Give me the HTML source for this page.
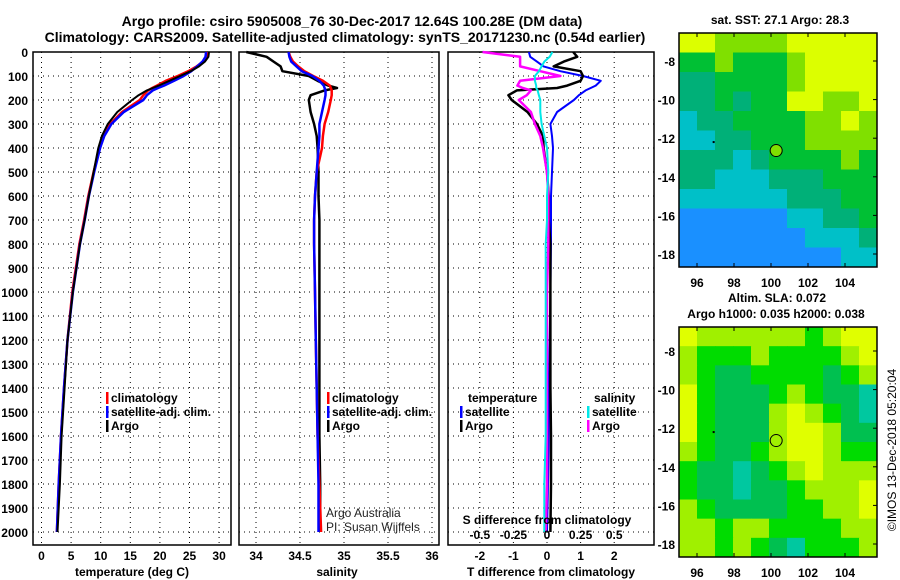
<!DOCTYPE html>
<html><head><meta charset="utf-8"><style>
html,body{margin:0;padding:0;background:#fff;}
svg{display:block;font-family:"Liberation Sans",Arial,sans-serif;}
.t{font-weight:bold;font-size:12px;fill:#000;}
.h{font-weight:bold;font-size:14px;fill:#000;}
</style></head><body>
<svg id="c" width="900" height="580" viewBox="0 0 900 580" xmlns="http://www.w3.org/2000/svg">
<text class="h" x="352" y="26" text-anchor="middle">Argo profile: csiro 5905008_76 30-Dec-2017 12.64S 100.28E (DM data)</text>
<text class="h" x="345" y="42" text-anchor="middle">Climatology: CARS2009. Satellite-adjusted climatology: synTS_20171230.nc (0.54d earlier)</text>
</svg>
<script>
// ---- data ----
const depths = [0,20,40,60,80,100,120,140,150,160,180,200,250,300,350,400,500,600,700,800,1000,1200,1400,1600,1800,2000];
const depthTicks = [0,100,200,300,400,500,600,700,800,900,1000,1100,1200,1300,1400,1500,1600,1700,1800,1900,2000];
const tempArgo = [28.3,28.2,27.6,26.6,25.2,23.4,21.6,19.8,18.8,17.8,16.4,15.3,12.8,11.2,10.2,9.6,8.8,8.0,7.3,6.5,5.3,4.4,3.9,3.4,3.1,2.7];
const tempClim = [28.0,27.9,27.3,26.2,24.8,23.0,21.0,19.5,18.7,18.0,17.2,16.6,13.6,11.6,10.5,9.8,8.8,7.9,7.2,6.4,5.2,4.4,3.8,3.3,2.9,2.6];
const tempSat = [27.8,27.7,27.2,26.3,25.3,24.0,22.4,20.7,19.7,18.8,17.8,17.2,13.9,11.8,10.6,9.9,8.9,8.0,7.3,6.5,5.3,4.4,3.8,3.3,2.9,2.6];
const tempTicks = [0,5,10,15,20,25,30];
const salArgo = [33.89,34.12,34.2,34.28,34.3,34.6,34.7,34.82,34.92,34.78,34.62,34.6,34.62,34.66,34.69,34.7,34.71,34.71,34.72,34.72,34.72,34.72,34.72,34.72,34.73,34.73];
const salClim = [34.37,34.39,34.42,34.48,34.55,34.65,34.76,34.84,34.85,34.86,34.86,34.85,34.82,34.78,34.76,34.75,34.69,34.67,34.66,34.66,34.67,34.68,34.69,34.7,34.72,34.74];
const salSat = [34.37,34.38,34.4,34.46,34.52,34.64,34.72,34.77,34.78,34.79,34.79,34.78,34.75,34.72,34.72,34.71,34.69,34.67,34.66,34.66,34.67,34.68,34.69,34.7,34.71,34.71];
const salTicks = [34,34.5,35,35.5,36];
const tDiffSat = [-0.54,-0.5,-0.3,-0.1,0.4,1.07,1.6,1.45,1.3,1.15,0.95,0.8,0.3,0.1,0.15,0.18,0.15,0.12,0.12,0.12,0.1,0.08,0.05,0.05,0.03,0.0];
const tDiffArgo = [0.78,0.9,0.5,0.2,1.0,1.07,1.0,0.6,0.3,-0.9,-1.15,-1.05,-0.58,-0.3,-0.12,-0.1,0.0,0.05,0.05,0.1,0.1,0.1,0.1,0.12,0.12,0.1];
const sDiffArgo = [-0.48,-0.2,-0.2,-0.2,-0.05,0.1,-0.2,-0.22,-0.18,-0.12,-0.15,-0.21,-0.12,-0.09,-0.05,-0.03,0,0.01,0.01,0.01,0,0,0,0,0,-0.01];
const sDiffSat = [0.04,0.02,-0.02,-0.04,-0.06,-0.09,-0.09,-0.08,-0.08,-0.07,-0.06,-0.05,-0.05,-0.04,-0.02,0,0.01,0,0,-0.01,-0.01,-0.01,-0.01,-0.01,-0.02,-0.02];
const tDiffTicks = [-2,-1,0,1,2];
const sDiffTicks = [-0.5,-0.25,0,0.25,0.5];
const sDiffLabels = ["-0.5","-0.25","0","0.25","0.5"];
const lonTicks = [96,98,100,102,104];
const latTicks = [-8,-10,-12,-14,-16,-18];
const sstGrid = [
[5,5,4,4,4,4,5,5,5,5,5],
[3,3,4,3,3,3,4,5,5,5,5],
[2,2,3,3,3,3,4,5,5,5,5],
[2,2,3,2,3,3,5,5,4,4,5],
[1,2,2,3,3,3,3,4,4,5,4],
[1,1,2,2,3,3,3,4,4,4,4],
[2,2,2,1,2,3,3,3,3,4,3],
[2,2,1,1,1,2,2,2,3,3,3],
[1,1,1,1,1,1,2,2,2,3,3],
[0,0,0,0,0,0,1,1,2,2,3],
[0,0,0,0,0,0,0,1,1,1,2],
[0,0,0,0,0,0,0,0,0,1,1]];
const slaGrid = [
[4,3,3,3,3,3,3,2,3,4,4],
[3,2,2,2,3,2,2,2,2,3,4],
[3,2,1,1,2,2,2,2,1,2,3],
[4,2,1,1,1,2,3,2,1,1,0],
[4,2,1,1,1,3,4,3,2,1,0],
[4,2,1,1,1,3,4,4,3,1,1],
[3,2,1,1,2,3,4,4,3,2,2],
[2,1,1,0,1,2,3,4,3,3,3],
[2,1,1,0,1,1,2,3,3,3,4],
[3,2,1,1,1,1,2,2,3,3,4],
[3,3,2,3,3,2,2,2,2,3,3],
[3,3,2,3,2,1,0,2,2,2,3]];
const sstColors = ["#1a90ff","#00c0c8","#00b078","#00c034","#80e000","#dcff00"];
const slaColors = ["#00c8a0","#00c050","#00dc00","#a0f000","#e0ff00"];
const argoLon = 100.28, argoLat = -12.64;

// ---- helpers ----
const svg = document.getElementById('c');
const NS = 'http://www.w3.org/2000/svg';
function mk(tag, at, txt){ const e=document.createElementNS(NS,tag); for(const k in at) e.setAttribute(k,at[k]); if(txt!==undefined) e.textContent=txt; svg.appendChild(e); return e; }
const yTop=52, yBot=545;
const yD = d => yTop + d*0.24;

function panel(name,x0,x1,xs,ticks,labels,showDepth){
  ticks.forEach(v=>{ const gx=xs(v);
    const g=mk('line',{x1:gx,x2:gx,y1:yTop,y2:yBot,stroke:'#000','stroke-width':1,'stroke-dasharray':'1 4'});
    
    
  });
  depthTicks.forEach(d=>{ const gy=yD(d);
    const g=mk('line',{x1:x0,x2:x1,y1:gy,y2:gy,stroke:'#000','stroke-width':1,'stroke-dasharray':'1 4'});
    
    
    if(showDepth){ const t=mk('text',{class:'t',x:x0-5,y:gy+5,'text-anchor':'end'},String(d));
      
       }
  });
  if(labels){ ticks.forEach((v,i)=>{ const t=mk('text',{class:'t',x:xs(v),y:560,'text-anchor':'middle'},labels[i]);
    
     }); }
  const f=mk('rect',{x:x0,y:yTop,width:x1-x0,height:yBot-yTop,fill:'none',stroke:'#000','stroke-width':1.5});
  
  
}
function line(name,vals,xs,color,w){
  const p=vals.map((v,i)=>xs(v).toFixed(1)+','+yD(depths[i]).toFixed(1)).join(' ');
  const e=mk('polyline',{points:p,fill:'none',stroke:color,'stroke-width':w||2.5,'stroke-linejoin':'round'});
  
  
}
function legend(name,x,y,color,label){
  const r=mk('rect',{x:x,y:y-10,width:2.5,height:12,fill:color});
  
  
  const t=mk('text',{class:'t',x:x+5,y:y},label);
  
  
}

// temperature panel
const xT = v => 41.5 + v*5.92;
panel('temperature-panel',33,231,xT,tempTicks,tempTicks.map(String),true);
line('temp-clim-line',tempClim,xT,'#ff0000');
line('temp-sat-line',tempSat,xT,'#0000ff');
line('temp-argo-line',tempArgo,xT,'#000000',2);
legend('legend-climatology',106,402,'#ff0000','climatology');
legend('legend-satellite-adj',106,416,'#0000ff','satellite-adj. clim.');
legend('legend-argo',106,430,'#000','Argo');
let tt=mk('text',{class:'t',x:132,y:576,'text-anchor':'middle'},'temperature (deg C)');



// salinity panel
const xS = v => 256 + (v-34)*88;
panel('salinity-panel',239,439,xS,salTicks,["34","34.5","35","35.5","36"],false);
line('sal-argo-line',salArgo,xS,'#000000',2.5);
line('sal-clim-line',salClim,xS,'#ff0000');
line('sal-sat-line',salSat,xS,'#0000ff');
legend('legend-sal-climatology',327,402,'#ff0000','climatology');
legend('legend-sal-satellite-adj',327,416,'#0000ff','satellite-adj. clim.');
legend('legend-sal-argo',327,430,'#000','Argo');
tt=mk('text',{class:'t',x:337,y:576,'text-anchor':'middle'},'salinity');


tt=mk('text',{x:326,y:517,'font-size':'12px',fill:'#222'},'Argo Australia');


tt=mk('text',{x:326,y:531,'font-size':'12px',fill:'#222'},'PI: Susan Wijffels');



// difference panel
const xTd = v => 547 + v*33.6;
const xSd = v => 547 + v*134.4;
panel('difference-panel',448,654,xTd,tDiffTicks,tDiffTicks.map(String),false);
line('tdiff-sat-line',tDiffSat,xTd,'#0000ff',2);
line('tdiff-argo-line',tDiffArgo,xTd,'#000000',2.5);
line('sdiff-argo-line',sDiffArgo,xSd,'#ff00ff',2.5);
line('sdiff-sat-line',sDiffSat,xSd,'#00e8e8',2);
sDiffTicks.forEach((v,i)=>{ const t=mk('text',{class:'t',x:xSd(v),y:539,'text-anchor':'middle'},sDiffLabels[i]);
  
   });
tt=mk('text',{class:'t',x:547,y:524,'text-anchor':'middle'},'S difference from climatology');


tt=mk('text',{class:'t',x:551,y:576,'text-anchor':'middle'},'T difference from climatology');


tt=mk('text',{class:'t',x:468,y:402},'temperature');


tt=mk('text',{class:'t',x:594,y:402},'salinity');


legend('legend-t-satellite',460,416,'#0000ff','satellite');
legend('legend-t-argo',460,430,'#000','Argo');
legend('legend-s-satellite',587,416,'#00e8e8','satellite');
legend('legend-s-argo',587,430,'#ff00ff','Argo');

// maps
function map(name,grid,colors,x0,x1,y0,y1,lat8y,lat18y,tickLabY){
  const xL = lon => 697 + (lon-96)*18.5;
  const yL = lat => lat8y + (-8-lat)*(lat18y-lat8y)/10;
  const rows=grid.length, cols=grid[0].length, cw=(x1-x0)/cols, ch=(y1-y0)/rows;
  grid.forEach((row,r)=>row.forEach((v,c)=>{
    const e=mk('rect',{x:x0+c*cw,y:y0+r*ch,width:cw+0.5,height:ch+0.5,fill:colors[v]});
    
    
  }));
  const f=mk('rect',{x:x0,y:y0,width:x1-x0,height:y1-y0,fill:'none',stroke:'#000','stroke-width':1.5});
  
  
  lonTicks.forEach(l=>{ const x=xL(l);
    mk('line',{x1:x,x2:x,y1:y1,y2:y1-4,stroke:'#000'});
    mk('line',{x1:x,x2:x,y1:y0,y2:y0+4,stroke:'#000'});
    const t=mk('text',{class:'t',x:x,y:tickLabY,'text-anchor':'middle'},String(l));
    
     });
  latTicks.forEach(l=>{ const y=yL(l);
    mk('line',{x1:x1,x2:x1-4,y1:y,y2:y,stroke:'#000'});
    const t=mk('text',{class:'t',x:675,y:y+5,'text-anchor':'end'},String(l));
    
     });
  const cc=mk('circle',{cx:xL(argoLon),cy:yL(argoLat),r:6,fill:colors[colors.length-2],stroke:'#000','stroke-width':1});
  
  
  mk('rect',{x:xL(96.9)-1,y:yL(-12.2)-1,width:2,height:2,fill:'#000'});
}
map('sst-map',sstGrid,sstColors,679,877,33,267,61,254,287);
map('sla-map',slaGrid,slaColors,679,877,327,557,351,544,577);
tt=mk('text',{class:'t',x:780,y:24,'text-anchor':'middle'},'sat. SST: 27.1 Argo: 28.3');


tt=mk('text',{class:'t',x:777,y:302,'text-anchor':'middle'},'Altim. SLA: 0.072');


tt=mk('text',{class:'t',x:776,y:318,'text-anchor':'middle'},'Argo h1000: 0.035 h2000: 0.038');


tt=mk('text',{x:896,y:450,'font-size':'12px',fill:'#000','text-anchor':'middle',transform:'rotate(-90 896 450)'},'©IMOS 13-Dec-2018 05:20:04');


</script>
</body></html>
